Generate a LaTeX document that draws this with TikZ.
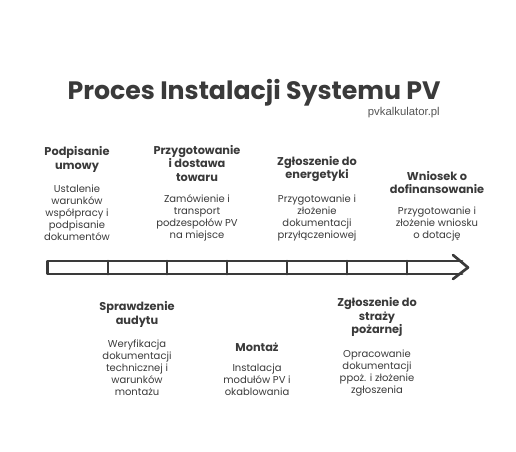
\documentclass[tikz,border=0pt]{standalone}
\usepackage{fontspec}
\setmainfont{Poppins}
\newfontfamily\sitefont{Liberation Sans}
\usetikzlibrary{positioning}
\definecolor{ink}{HTML}{3A3A3A}
\definecolor{site}{HTML}{555555}
\begin{document}
\begin{tikzpicture}[x=0.75pt,y=-0.75pt,
        head/.style={font=\bfseries\fontsize{8.5}{10.3}\selectfont,
        text=ink, align=center, inner sep=0pt},
        desc/.style={font=\fontsize{7.5}{9}\selectfont, text=ink,
        align=center, inner sep=0pt, anchor=south},
        bar/.style={draw=ink, line width=2pt, line join=round,
        line cap=round},
        node distance=9pt]
      \useasboundingbox (0,0) rectangle (516,451);
      \node[font=\bfseries\fontsize{18.9}{21}\selectfont, text=ink,
        anchor=base, inner sep=0pt, name=title] at (254,99) {Proces Instalacji Systemu PV};
      \node[font=\sitefont\fontsize{8.5}{10}\selectfont, text=site,
        anchor=base east, inner sep=0pt, name=url] at (440,115) {pvkalkulator.pl};
      \draw[bar] (462,261) -- (47.5,261) -- (47.5,274) -- (462,274);
      \draw[bar] (453,255) -- (468,267.5) -- (453,279);
      \foreach \x in {108,167,227,287,347,407}
        \draw[bar] (\x,261) -- (\x,274);
      \node[desc,name=d1] at (77,241) {Ustalenie\\warunków\\współpracy i\\podpisanie\\dokumentów};
      \node[head,name=h1,above=of d1] {Podpisanie\\umowy};
      \node[desc,name=d3] at (197,241) {Zamówienie i\\transport\\podzespołów PV\\na miejsce};
      \node[head,name=h3,above=of d3] {Przygotowanie\\i dostawa\\towaru};
      \node[desc,name=d5] at (317,241) {Przygotowanie i\\złożenie\\dokumentacji\\przyłączeniowej};
      \node[head,name=h5,above=of d5] {Zgłoszenie do\\energetyki};
      \node[desc,name=d7] at (437,241) {Przygotowanie i\\złożenie wniosku\\o dotację};
      \node[head,name=h7,above=of d7] {Wniosek o\\dofinansowanie};
      \node[desc,name=d2] at (137,396) {Weryfikacja\\dokumentacji\\technicznej i\\warunków\\montażu};
      \node[head,name=h2,above=of d2] {Sprawdzenie\\audytu};
      \node[desc,name=d4] at (257,396) {Instalacja\\modułów PV i\\okablowania};
      \node[head,name=h4,above=of d4] {Montaż};
      \node[desc,name=d6] at (377,396) {Opracowanie\\dokumentacji\\ppoż. i złożenie\\zgłoszenia};
      \node[head,name=h6,above=of d6] {Zgłoszenie do\\straży\\pożarnej};
    \end{tikzpicture}
\end{document}
